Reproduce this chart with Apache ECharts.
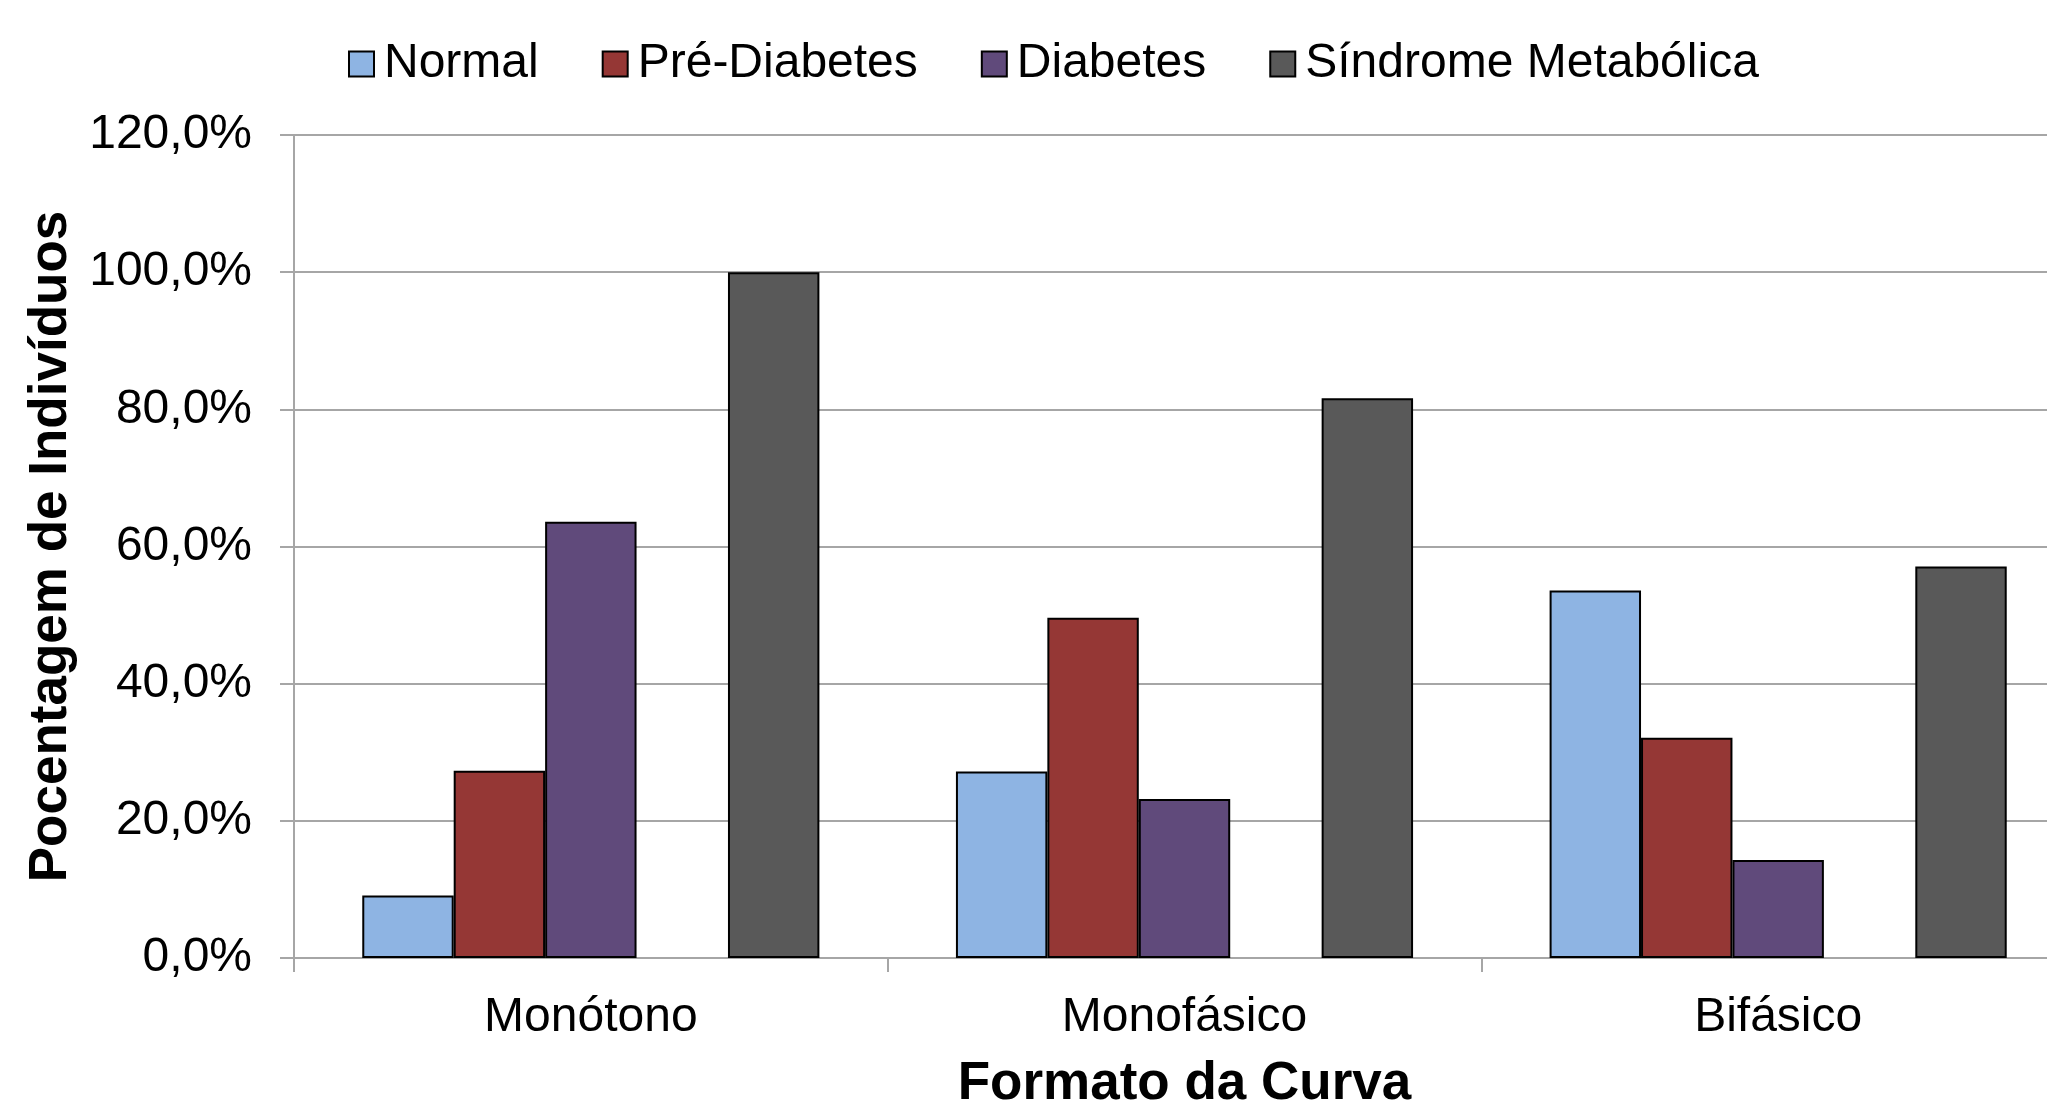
<!DOCTYPE html>
<html>
<head>
<meta charset="utf-8">
<script src="https://cdn.jsdelivr.net/npm/echarts@6/dist/echarts.min.js"></script>
<style>
  html, body { margin: 0; padding: 0; background: #fff; overflow: hidden; width: 2047px; height: 1102px; }
  #chart { width: 2047px; height: 1102px; overflow: hidden; }
</style>
</head>
<body>
<div id="chart"></div>
<script>
const categories = ['Monótono', 'Monofásico', 'Bifásico'];
const seriesNames = ['Normal', 'Pré-Diabetes', 'Diabetes', 'Síndrome Metabólica'];
const normal = [9.1, 27.2, 53.6];
const preDiabetes = [27.3, 49.6, 32.1];
const diabetes = [63.6, 23.2, 14.3];
const emptySlot = [null, null, null];
const sindrome = [100.0, 81.6, 57.1];
const yTicks = [0, 20, 40, 60, 80, 100, 120];

const colors = {
  'Normal': '#8EB4E3',
  'Pré-Diabetes': '#953735',
  'Diabetes': '#604A7B',
  'Síndrome Metabólica': '#595959'
};

const FONT = '"Liberation Sans", Arial, sans-serif';
const gridColor = '#A6A6A6';

function barSeries(name, data) {
  return {
    name: name,
    type: 'bar',
    data: data,
    barGap: '0%',
    barCategoryGap: '23%',
    itemStyle: { color: colors[name], borderColor: '#000', borderWidth: 2 },
    emphasis: { disabled: true },
    animation: false
  };
}

const chart = echarts.init(document.getElementById('chart'), null, { renderer: 'canvas', width: 2047, height: 1102 });
chart.setOption({
  animation: false,
  backgroundColor: '#ffffff',
  textStyle: { fontFamily: FONT },
  legend: {
    data: seriesNames,
    left: 343,
    top: 35,
    itemWidth: 25,
    itemHeight: 25,
    itemGap: 63,
    icon: 'rect',
    itemStyle: { borderColor: '#000', borderWidth: 2 },
    textStyle: { fontSize: 48, fontFamily: FONT, color: '#000', padding: [0, 0, 0, 5] }
  },
  grid: { left: 294, right: -28, top: 135, bottom: 144, containLabel: false, outerBoundsMode: 'none' },
  xAxis: {
    type: 'category',
    data: categories,
    boundaryGap: true,
    name: 'Formato da Curva',
    nameLocation: 'middle',
    nameGap: 100,
    nameTextStyle: { fontSize: 53, fontWeight: 'bold', fontFamily: FONT, color: '#000' },
    axisLine: { show: true, lineStyle: { color: gridColor, width: 2 } },
    axisTick: { show: true, length: 14, interval: 0, alignWithLabel: false, lineStyle: { color: gridColor, width: 2 } },
    axisLabel: { fontSize: 48, fontFamily: FONT, color: '#000', margin: 36, interval: 0 },
    splitLine: { show: false }
  },
  yAxis: {
    type: 'value',
    min: yTicks[0],
    max: yTicks[yTicks.length - 1],
    interval: 20,
    name: 'Pocentagem de Indivíduos',
    nameLocation: 'middle',
    nameGap: 214,
    nameTextStyle: { fontSize: 53, fontWeight: 'bold', fontFamily: FONT, color: '#000' },
    axisLine: { show: true, lineStyle: { color: gridColor, width: 2 } },
    axisTick: { show: true, length: 14, lineStyle: { color: gridColor, width: 2 } },
    axisLabel: {
      fontSize: 48, fontFamily: FONT, color: '#000', margin: 42,
      formatter: v => v.toFixed(1).replace('.', ',') + '%'
    },
    splitLine: { show: true, lineStyle: { color: gridColor, width: 2 } }
  },
  series: [
    barSeries('Normal', normal),
    barSeries('Pré-Diabetes', preDiabetes),
    barSeries('Diabetes', diabetes),
    { name: '', type: 'bar', data: emptySlot, barGap: '0%', barCategoryGap: '23%', silent: true },
    barSeries('Síndrome Metabólica', sindrome)
  ]
});
</script>
</body>
</html>
